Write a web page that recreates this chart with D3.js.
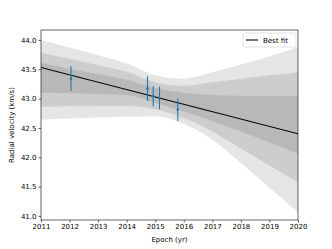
<!DOCTYPE html>
<meta charset="utf-8">
<title>Radial velocity fit</title>
<script src="https://d3js.org/d3.v7.min.js"></script>
<style>
    body { margin: 0; background: #fff; }
    text { font-family: "DejaVu Sans", sans-serif; fill: #000; }
</style>
<body>
<div id="plot"></div>
<script>
    // band edges (km/s), outer (3) to inner (1)
    var bandYears = [2011, 2012, 2013, 2014, 2015, 2016, 2017, 2018, 2019, 2020];
    var upper3 = [44.00, 43.87, 43.74, 43.60, 43.40, 43.34, 43.45, 43.58, 43.72, 43.88];
    var lower3 = [42.64, 42.66, 42.68, 42.69, 42.70, 42.57, 42.30, 41.90, 41.48, 41.06];
    var upper2 = [43.78, 43.68, 43.57, 43.46, 43.28, 43.22, 43.28, 43.34, 43.40, 43.45];
    var lower2 = [42.86, 42.87, 42.88, 42.88, 42.82, 42.67, 42.44, 42.15, 41.86, 41.57];
    var upper1 = [43.61, 43.51, 43.42, 43.32, 43.18, 43.10, 43.06, 43.05, 43.05, 43.05];
    var lower1 = [43.10, 43.09, 43.08, 43.06, 42.93, 42.78, 42.62, 42.44, 42.25, 42.06];

    // best fit line end points
    var fitYears = [2011, 2020];
    var fitValues = [43.53, 42.40];

    // measurements
    var obsYears = [2012.05, 2014.73, 2014.93, 2015.15, 2015.79];
    var obsValues = [43.34, 43.17, 43.04, 43.01, 42.81];
    var obsErrors = [0.21, 0.21, 0.17, 0.19, 0.19];

    var xTicks = [2011, 2012, 2013, 2014, 2015, 2016, 2017, 2018, 2019, 2020];
    var yTicks = [41.0, 41.5, 42.0, 42.5, 43.0, 43.5, 44.0];

    var W = 332, H = 249;
    var margin = {top: 30, right: 34, bottom: 29, left: 41},
        width = W - margin.left - margin.right,
        height = H - margin.top - margin.bottom;

    var svg = d3.select("#plot")
        .append("svg")
            .attr("width", W)
            .attr("height", H)
        .append("g")
            .attr("transform", "translate(" + margin.left + "," + margin.top + ")");

    var x = d3.scaleLinear().domain([2011, 2020]).range([0, width]);
    var y = d3.scaleLinear().domain([40.93, 44.17]).range([height, 0]);

    svg.append("defs").append("clipPath").attr("id", "clip")
        .append("rect").attr("width", width).attr("height", height);

    var plot = svg.append("g").attr("clip-path", "url(#clip)");

    function band(lo, hi) {
        return d3.area()
            .curve(d3.curveMonotoneX)
            .x(function (d, i) { return x(bandYears[i]); })
            .y0(function (d, i) { return y(lo[i]); })
            .y1(function (d, i) { return y(hi[i]); })(bandYears);
    }

    [[lower3, upper3], [lower2, upper2], [lower1, upper1]].forEach(function (b) {
        plot.append("path")
            .attr("d", band(b[0], b[1]))
            .attr("fill", "#000")
            .attr("fill-opacity", 0.1);
    });

    // best fit
    plot.append("line")
        .attr("x1", x(fitYears[0])).attr("y1", y(fitValues[0]))
        .attr("x2", x(fitYears[1])).attr("y2", y(fitValues[1]))
        .attr("stroke", "#000")
        .attr("stroke-width", 1.1);

    // error bars
    var eb = plot.append("g");
    obsYears.forEach(function (t, i) {
        eb.append("line")
            .attr("x1", x(t)).attr("x2", x(t))
            .attr("y1", y(obsValues[i] - obsErrors[i]))
            .attr("y2", y(obsValues[i] + obsErrors[i]))
            .attr("stroke", "#1f77b4")
            .attr("stroke-width", 1.1);
        eb.append("circle")
            .attr("cx", x(t)).attr("cy", y(obsValues[i]))
            .attr("r", 1.3)
            .attr("fill", "#1f77b4");
    });

    // axes
    var xAxis = svg.append("g")
        .attr("transform", "translate(0," + height + ")")
        .call(d3.axisBottom(x).tickValues(xTicks).tickFormat(d3.format("d")).tickSize(2.5).tickPadding(2));
    var yAxis = svg.append("g")
        .call(d3.axisLeft(y).tickValues(yTicks).tickFormat(d3.format(".1f")).tickSize(2.5).tickPadding(2));
    [xAxis, yAxis].forEach(function (a) {
        a.select(".domain").remove();
        a.selectAll("line").attr("stroke", "#000").attr("stroke-width", 0.6);
        a.selectAll("text").style("font-size", "7px").attr("fill", "#000");
    });

    // frame
    svg.append("rect")
        .attr("width", width).attr("height", height)
        .attr("fill", "none")
        .attr("stroke", "#000")
        .attr("stroke-width", 0.6);

    svg.append("text")
        .attr("x", width / 2)
        .attr("y", height + 22)
        .attr("text-anchor", "middle")
        .style("font-size", "7px")
        .text("Epoch (yr)");

    svg.append("text")
        .attr("transform", "rotate(-90)")
        .attr("x", -height / 2)
        .attr("y", -27)
        .attr("text-anchor", "middle")
        .style("font-size", "7px")
        .text("Radial velocity (km/s)");

    // legend
    var lg = svg.append("g").attr("transform", "translate(" + (width - 55) + ",3)");
    lg.append("rect")
        .attr("width", 53).attr("height", 14)
        .attr("rx", 1.5)
        .attr("fill", "#fff").attr("fill-opacity", 0.8)
        .attr("stroke", "#ccc").attr("stroke-width", 0.6);
    lg.append("line")
        .attr("x1", 3).attr("x2", 15).attr("y1", 7).attr("y2", 7)
        .attr("stroke", "#000").attr("stroke-width", 1.1);
    lg.append("text")
        .attr("x", 20).attr("y", 9.5)
        .style("font-size", "7px")
        .text("Best fit");
</script>
</body>
